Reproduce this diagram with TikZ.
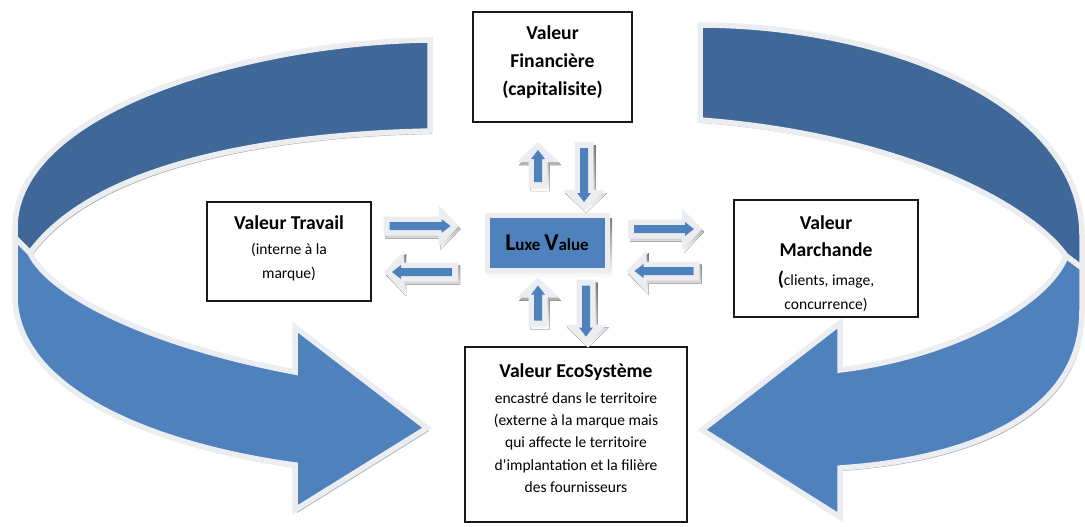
\documentclass[tikz,border=0pt]{standalone}
\usepackage{fontspec}
\setmainfont{Carlito}
\definecolor{bandlight}{HTML}{4F81BD}
\definecolor{banddark}{HTML}{3F6797}
\definecolor{rim}{HTML}{EBEDF0}
\definecolor{shade}{HTML}{A7AEB8}
\newcommand\U{0.56pt}
\newcommand\hd{\fontsize{11}{15.4}\selectfont\bfseries}
% small block arrow: centre x, centre y, angle, half length
\newcommand\sarrow[4]{%
  \fill[shade, shift={(#1+2,#2+3)}, rotate=#3]
    (-#4,-9.5) -- (#4-20,-9.5) -- (#4-20,-21) -- (#4,0) -- (#4-20,21) -- (#4-20,9.5) -- (-#4,9.5) -- cycle;
  \fill[rim, shift={(#1,#2)}, rotate=#3]
    (-#4,-9.5) -- (#4-20,-9.5) -- (#4-20,-21) -- (#4,0) -- (#4-20,21) -- (#4-20,9.5) -- (-#4,9.5) -- cycle;
  \fill[bandlight, shift={(#1,#2)}, rotate=#3]
    (-#4+6,-4) -- (#4-17,-4) -- (#4-17,-7) -- (#4-8,0) -- (#4-17,7) -- (#4-17,4) -- (-#4+6,4) -- cycle;
}
\def\darkL{(430,40) .. controls (250,42) and (15,110) .. (15,228) -- (15,238) -- (30,253) .. controls (90,170) and (250,135) .. (430,131) -- cycle}
\def\lightL{(15,238) -- (15,300) .. controls (20,390) and (150,445) .. (295,465) -- (295,510) -- (427,428) -- (295,327) -- (295,372) .. controls (150,345) and (50,295) .. (30,253) -- cycle}
\def\darkR{(700,25) .. controls (880,25) and (1082,100) .. (1082,235) -- (1082,268) -- (1066,256) .. controls (1030,205) and (900,135) .. (700,120) -- cycle}
\def\lightR{(1082,268) -- (1082,310) .. controls (1082,420) and (960,460) .. (840,468) -- (840,517) -- (702,430) -- (840,323) -- (840,370) .. controls (960,355) and (1050,300) .. (1066,256) -- cycle}
\tikzset{
  band/.style={draw=rim, line width=5.5*\U, line join=miter},
  bandshadow/.style={fill=shade, shift={(2,3)}},
  box/.style={draw=black!90, line width=1.6*\U, fill=white, inner sep=0pt},
  txt/.style={align=flush center, inner sep=0pt, text width=150pt},
}
\begin{document}
\begin{tikzpicture}[x=0.56pt, y=-0.56pt]
\useasboundingbox (0,0) rectangle (1085,526);
% big ribbon arrows
\fill[bandshadow] \darkL;
\path[band, fill=banddark] \darkL;
\fill[bandshadow] \lightL;
\path[band, fill=bandlight] \lightL;
\fill[bandshadow] \darkR;
\path[band, fill=banddark] \darkR;
\fill[bandshadow] \lightR;
\path[band, fill=bandlight] \lightR;
% boxes
\node[box, minimum width=159*\U, minimum height=110*\U] (fin) at (552.5,67) {};
\node[txt] (fintxt) at (552.5,62)
  {\fontsize{11}{15.7}\selectfont\bfseries Valeur\\Financière\\(capitalisite)\par};
\node[box, minimum width=164*\U, minimum height=99*\U] (trav) at (289,251.5) {};
\node[txt] (travtxt) at (289,248.5)
  {{\hd Valeur Travail\par}\vspace{0.6pt}{\fontsize{8.7}{13.4}\selectfont (interne à la\\marque)\par}};
\node[box, minimum width=184*\U, minimum height=117*\U] (march) at (826,258.5) {};
\node[txt] (marchtxt) at (826,263.5)
  {{\fontsize{11}{15.1}\selectfont\bfseries Valeur\\Marchande\par}\vspace{2.8pt}{\fontsize{8.7}{13.4}\selectfont{\fontsize{11}{12}\selectfont\bfseries(}clients, image,\\concurrence)\par}};
\node[box, minimum width=222*\U, minimum height=175*\U] (eco) at (576,434.5) {};
\node[txt] (ecotxt) at (576,428)
  {{\hd Valeur EcoSystème\par}\vspace{2.2pt}{\fontsize{8.7}{12.4}\selectfont encastré dans le territoire\\(externe à la marque mais\\qui affecte le territoire\\d’implantation et la filière\\des fournisseurs\par}};
% central box
\fill[shade] (487,218) rectangle (612,278);
\node[draw=rim, line width=5*\U, fill=bandlight, minimum width=120*\U, minimum height=55*\U, inner sep=0pt, font=\bfseries] (luxe) at (547,242.5)
  {\fontsize{13.5}{14}\selectfont L\fontsize{9.5}{10}\selectfont uxe \fontsize{13.5}{14}\selectfont V\fontsize{9.5}{10}\selectfont alue};
% small exchange arrows
\sarrow{421}{226}{0}{37.5}
\sarrow{421}{272}{180}{37}
\sarrow{538}{302}{90}{24.5}
\sarrow{586}{312}{-90}{32.5}
\sarrow{538}{165}{90}{23}
\sarrow{584}{176}{-90}{34}
\sarrow{665}{229}{0}{37}
\sarrow{663}{271}{180}{36.5}
\end{tikzpicture}
\end{document}
